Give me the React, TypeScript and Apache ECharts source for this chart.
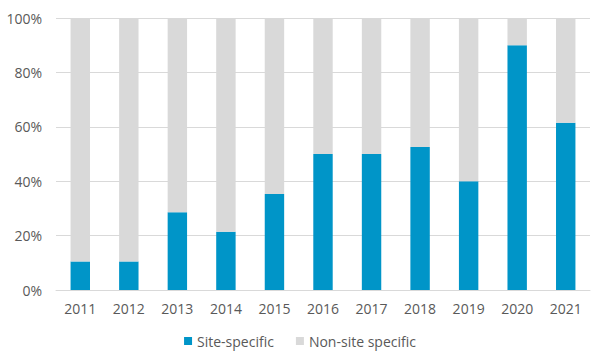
import React, { useEffect, useRef } from "react";
import * as echarts from "echarts";

const years = ["2011", "2012", "2013", "2014", "2015", "2016", "2017", "2018", "2019", "2020", "2021"];
const siteSpecific = [10.5, 10.5, 28.6, 21.4, 35.3, 50, 50, 52.6, 40, 90, 61.5];
const nonSiteSpecific = [89.5, 89.5, 71.4, 78.6, 64.7, 50, 50, 47.4, 60, 10, 38.5];
const yTicks = [0, 20, 40, 60, 80, 100];

export default function App() {
  const ref = useRef<HTMLDivElement>(null);
  useEffect(() => {
    document.body.style.margin = "0";
    const chart = echarts.init(ref.current!, null, { renderer: "svg" });
    const font = "Open Sans";
    chart.setOption({
      animation: false,
      grid: { left: 56, right: 10, top: 18, bottom: 69, containLabel: false },
      legend: {
        bottom: 6,
        left: "center",
        itemWidth: 8,
        itemHeight: 8,
        itemGap: 22,
        icon: "rect",
        textStyle: { color: "#595959", fontSize: 14, fontFamily: font },
        data: ["Site-specific", "Non-site specific"],
      },
      xAxis: {
        type: "category",
        data: years,
        axisLine: { lineStyle: { color: "#d9d9d9" } },
        axisTick: { show: false },
        axisLabel: { color: "#595959", fontSize: 14, fontFamily: font, margin: 11 },
      },
      yAxis: {
        type: "value",
        min: yTicks[0],
        max: yTicks[yTicks.length - 1],
        interval: 20,
        axisLine: { show: false },
        axisTick: { show: false },
        splitLine: { lineStyle: { color: "#d9d9d9" } },
        axisLabel: { color: "#595959", fontSize: 14, fontFamily: font, margin: 14, formatter: "{value}%" },
      },
      series: [
        {
          name: "Site-specific",
          type: "bar",
          stack: "total",
          data: siteSpecific,
          barWidth: "40%",
          itemStyle: { color: "#0095c8" },
        },
        {
          name: "Non-site specific",
          type: "bar",
          stack: "total",
          data: nonSiteSpecific,
          barWidth: "40%",
          itemStyle: { color: "#d9d9d9" },
        },
      ],
    });
    return () => chart.dispose();
  }, []);
  return <div ref={ref} style={{ width: 600, height: 359 }} />;
}
